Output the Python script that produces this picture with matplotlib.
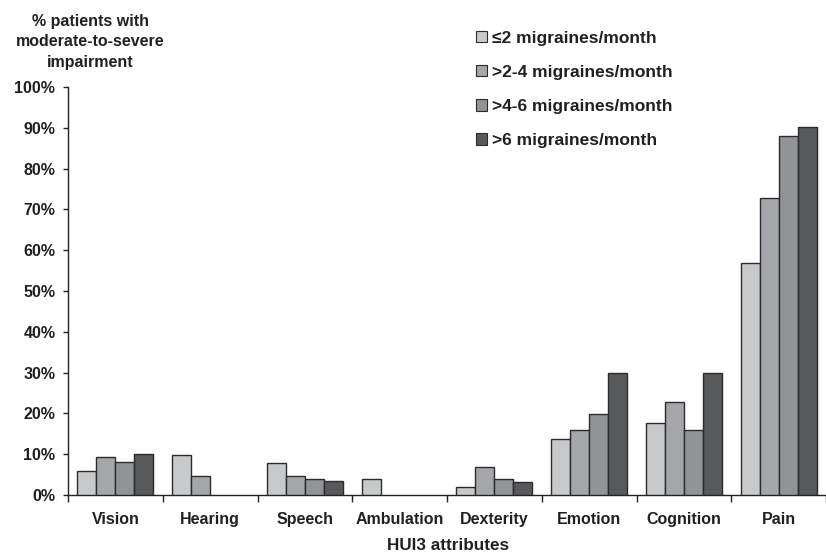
import matplotlib
matplotlib.use("Agg")
import matplotlib.pyplot as plt
from matplotlib.patches import Patch
import numpy as np

plt.rcParams['font.family'] = ['Liberation Sans', 'DejaVu Sans']

categories = ["Vision", "Hearing", "Speech", "Ambulation", "Dexterity", "Emotion", "Cognition", "Pain"]
series_names = ["≤2 migraines/month", ">2-4 migraines/month", ">4-6 migraines/month", ">6 migraines/month"]
le2 = [6.0, 9.9, 7.9, 4.0, 1.9, 13.7, 17.6, 56.9]
gt2_4 = [9.2, 4.7, 4.7, 0, 6.8, 15.9, 22.7, 72.8]
gt4_6 = [8.2, 0, 4.0, 0, 3.8, 19.9, 15.9, 88.0]
gt6 = [10.1, 0, 3.4, 0, 3.2, 30.0, 30.0, 90.1]
series = [le2, gt2_4, gt4_6, gt6]
colors = ["#c8c9cb", "#a5a6a9", "#929396", "#58595b"]
yticks = [0, 10, 20, 30, 40, 50, 60, 70, 80, 90, 100]

txt = "#231f20"
fig = plt.figure(figsize=(8.26, 5.53), dpi=100)
ax = fig.add_axes([68/826, 1-495/553, 1-68/826, (495-87)/553])

x = np.arange(len(categories))
w = 0.2
for i, (vals, c) in enumerate(zip(series, colors)):
    vals = np.array(vals)
    mask = vals > 0
    ax.bar(x[mask] + (i - 1.5) * w, vals[mask], width=w, color=c,
           edgecolor="#2b2b2b", linewidth=1.0, zorder=3)

ax.set_xlim(-0.5, len(categories) - 0.5)
ax.set_ylim(0, 100)
ax.set_yticks(yticks)
ax.set_yticklabels([f"{v}%" for v in yticks], fontsize=11.5, fontweight="bold", color=txt)
ax.tick_params(axis="y", direction="out", length=3.6, width=1, pad=5.5, color="#222")
ax.set_xticks(x)
ax.set_xticklabels(categories, fontsize=11.5, fontweight="bold", color=txt)
ax.tick_params(axis="x", which="major", length=0, pad=12)
ax.set_xticks(np.arange(-0.5, len(categories)), minor=True)
ax.tick_params(axis="x", which="minor", direction="out", length=5, width=1, color="#222")
for s in ["top", "right"]:
    ax.spines[s].set_visible(False)
for s in ["left", "bottom"]:
    ax.spines[s].set_linewidth(1)
    ax.spines[s].set_color("#222")

fig.text(90/826, 1-42/553, "% patients with\nmoderate-to-severe\nimpairment", ha="center", va="center",
         fontsize=11.5, fontweight="bold", color=txt, linespacing=1.42)
fig.text(448/826, 1-546/553, "HUI3 attributes", ha="center", va="center",
         fontsize=12.3, fontweight="bold", color=txt)

handles = [Patch(facecolor=c, edgecolor="#2b2b2b", linewidth=0.8) for c in colors]
leg = fig.legend(handles, series_names, loc="upper left", bbox_to_anchor=(467/826, 1-22/553),
                 frameon=False, prop={"weight": "bold", "size": 12.5},
                 handlelength=0.65, handleheight=0.65, handletextpad=0.3, labelspacing=1.1, borderpad=0)
for t in leg.get_texts():
    t.set_color(txt)

fig.savefig("out.png", dpi=100)
